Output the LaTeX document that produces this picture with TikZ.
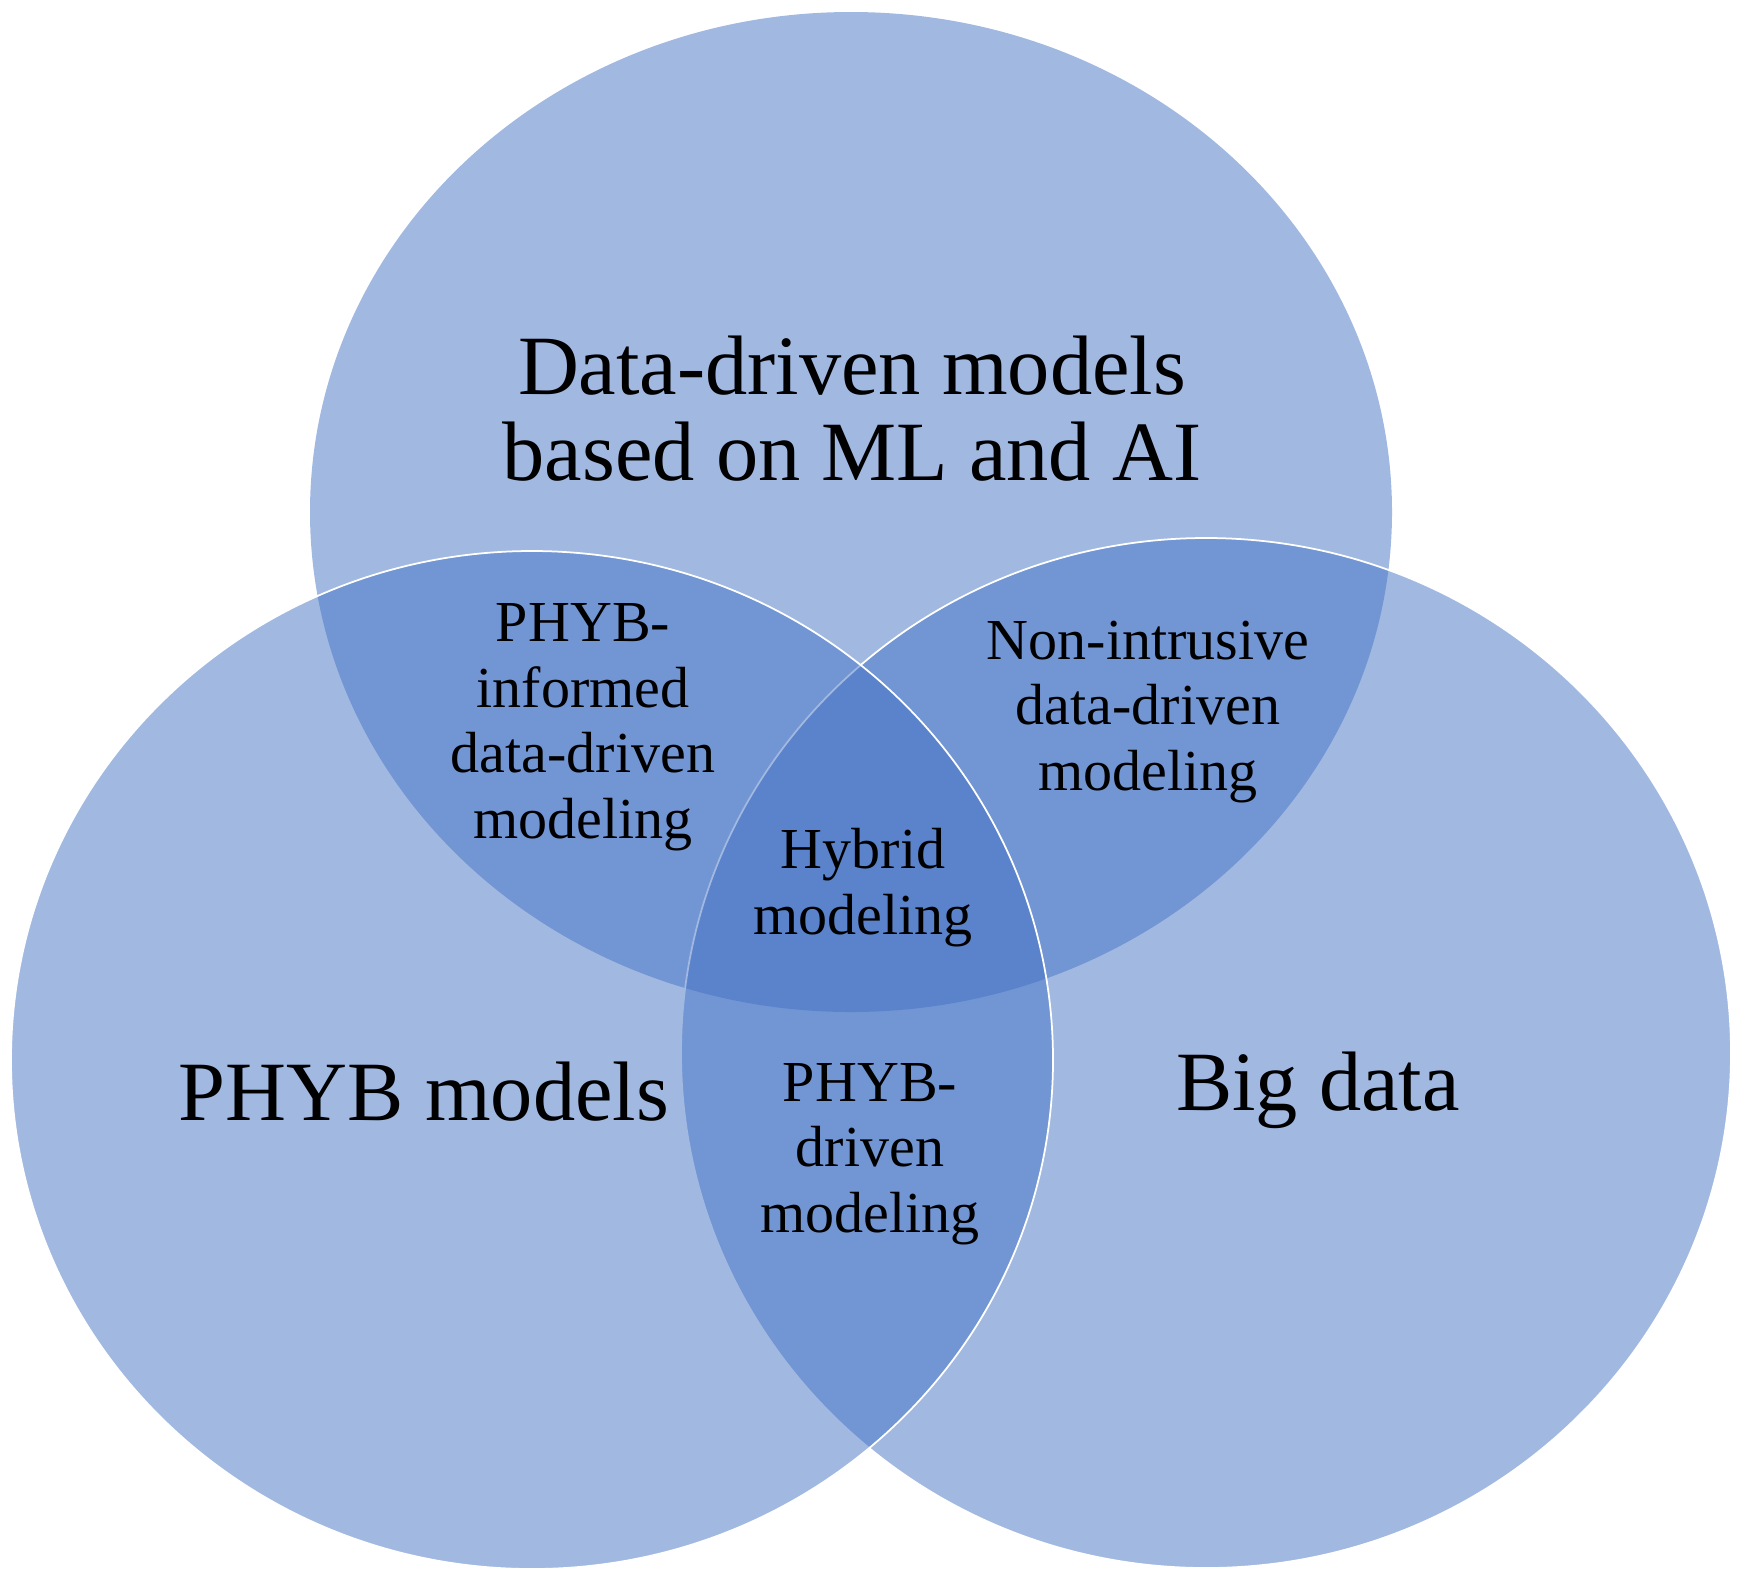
\documentclass[tikz,border=0pt]{standalone}
\usepackage{fontspec}
\setmainfont{Liberation Serif}
\definecolor{vennblue}{HTML}{4472C4}

\begin{document}
\begin{tikzpicture}[x=0.01cm,y=-0.01cm,
  set/.style={fill=vennblue,fill opacity=0.5},
  setline/.style={set,draw=white,line width=0.5pt},
  biglabel/.style={align=center,anchor=base,font=\fontsize{24}{24.2}\selectfont},
  smalllabel/.style={align=center,anchor=base,font=\fontsize{16.5}{18.6}\selectfont}]
\useasboundingbox (0,0) rectangle (1743,1581);
% the three sets
 \path[set] (851,512) ellipse [x radius=541,y radius=500];
 \path[setline] (1206,1053) ellipse [x radius=525,y radius=515];
 \path[setline] (532,1060) ellipse [x radius=521,y radius=509];

% set names (anchored at the last baseline)
 \node[biglabel] (ddmodels) at (852,480) {Data-driven models\\based on ML and AI};
 \node[biglabel] (phybmodels) at (424,1120) {PHYB models};
 \node[biglabel] (bigdata) at (1318,1110) {Big data};

% overlaps
 \node[smalllabel] (informed) at (583,838) {PHYB-\\informed\\data-driven\\modeling};
 \node[smalllabel] (nonintr) at (1148,790) {Non-intrusive\\data-driven\\modeling};
 \node[smalllabel] (hybrid) at (863,934) {Hybrid\\modeling};
 \node[smalllabel] (phybdriven) at (870,1232) {PHYB-\\driven\\modeling};
\end{tikzpicture}
\end{document}
